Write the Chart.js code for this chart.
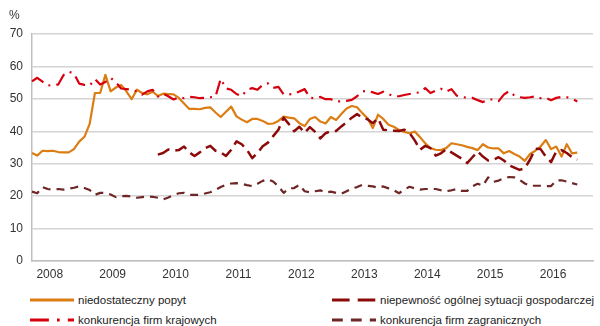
<!DOCTYPE html>
<html lang="pl">
<head>
<meta charset="utf-8">
<title>Bariery działalności</title>
<script src="https://cdn.jsdelivr.net/npm/chart.js@4/dist/chart.umd.min.js"></script>
<style>
  body { margin: 0; background: #fff; font-family: 'Liberation Sans', Arial, sans-serif; }
  #wrap { position: relative; width: 600px; height: 326px; overflow: hidden; }
  #box { position: absolute; left: 0; top: 0; width: 600px; height: 290px; }
  #unit { position: absolute; left: 9px; top: 8px; font-size: 12px; line-height: 14px; color: #333; }
  .item { position: absolute; height: 14px; font-size: 11.5px; line-height: 14px; color: #222; white-space: nowrap; }
  .item svg { position: absolute; left: 0; top: 0; }
  .item span { position: absolute; top: 0; left: 48px; }
</style>
</head>
<body>
<div id="wrap">
  <div id="box"><canvas id="barriersChart"></canvas></div>
  <div id="unit">%</div>
  <div id="legend"></div>
</div>
<script>
// year tick labels, data is monthly from Jan 2008
const years = ['2008', '2009', '2010', '2011', '2012', '2013', '2014', '2015', '2016'];

const popyt = [
  33.3, 32.5, 34.0, 33.9, 34.0, 33.6, 33.5, 33.5, 34.5, 36.8, 38.3, 42.3,
  51.8, 51.8, 57.4, 52.3, 53.5, 54.3, 52.3, 49.9, 52.8, 51.8, 51.4, 52.2,
  50.9, 51.6, 51.5, 51.4, 50.3, 48.6, 46.9, 46.9, 46.8, 47.2, 47.4, 45.8,
  44.4, 46.0, 47.6, 44.6, 43.6, 42.8, 43.8, 43.8, 43.2, 42.3, 42.4, 43.2,
  44.5, 44.2, 44.0, 42.5, 41.6, 43.8, 44.4, 43.0, 42.4, 44.4, 43.5, 45.3,
  47.0, 47.8, 47.4, 45.6, 44.0, 41.0, 45.1, 43.8, 42.0, 41.4, 40.4, 39.8,
  39.4, 39.9, 38.2, 36.3, 34.8, 34.3, 34.2, 34.8, 36.3, 36.0, 35.7, 35.2,
  34.8, 34.2, 36.0, 35.0, 34.7, 34.7, 33.2, 33.9, 33.0, 32.2, 30.9, 33.0,
  34.0, 35.3, 37.3, 34.5, 35.3, 32.2, 36.0, 33.2, 33.4
];

const niepewnosc = [
  null, null, null, null, null, null, null, null, null, null, null, null,
  null, null, null, null, null, null, null, null, null, null, null, null,
  32.8, 33.3, 34.4, 34.0, 34.2, 35.3, 33.5, 32.4, 33.5, 34.8, 35.5, 34.0,
  33.5, 32.4, 34.3, 36.9, 36.0, 34.3, 31.7, 33.3, 35.4, 36.5, 38.5, 40.5,
  44.2, 42.2, 40.0, 41.4, 39.5, 41.3, 39.8, 37.8, 39.4, 40.1, 40.1, 41.5,
  42.8, 44.2, 45.3, 44.2, 43.7, 42.5, 44.0, 40.5, 40.3, 40.2, 40.1, 40.5,
  39.5, 37.2, 34.3, 35.5, 34.8, 32.5, 33.2, 34.5, 33.5, 32.5, 31.5, 30.2,
  32.0, 33.8, 32.2, 31.0, 31.2, 32.0, 31.0, 29.5, 28.8, 28.1, 28.6, 31.3,
  34.6, 34.5, 32.2, 30.5, 33.8, 34.2, 33.3, 32.0, 31.3
];

const krajowe = [
  55.4, 56.5, 55.3, 54.1, 54.3, 54.4, 57.3, 58.4, 57.8, 54.7, 54.3, 54.1,
  56.1, 54.4, 55.2, 56.5, 55.1, 53.2, 53.0, 52.8, 52.3, 51.3, 52.3, 52.8,
  50.7, 51.6, 50.8, 49.8, 50.5, 50.2, 50.6, 50.5, 50.2, 50.3, 50.5, 50.7,
  56.2, 53.2, 52.8, 51.5, 50.8, 52.8, 53.3, 52.8, 54.3, 54.8, 53.4, 53.7,
  51.4, 51.4, 51.5, 52.3, 53.0, 50.3, 50.2, 50.6, 49.9, 49.9, 49.2, 49.2,
  49.4, 49.7, 50.8, 52.3, 52.5, 52.0, 51.5, 52.2, 51.5, 50.8, 50.8, 51.2,
  51.5, 51.8, 52.0, 53.3, 51.8, 52.5, 53.1, 52.2, 53.0, 51.0, 50.6, 50.3,
  50.3, 49.6, 49.0, 49.8, 49.8, 49.3, 51.3, 52.4, 51.0, 50.5, 50.3, 50.5,
  50.8, 50.2, 50.3, 49.6, 50.3, 50.6, 50.5, 50.1, 49.2
];

const zagraniczne = [
  21.4, 20.9, 22.8, 22.2, 22.0, 22.2, 22.0, 22.3, 22.6, 23.0, 22.5, 21.9,
  20.4, 21.0, 21.0, 20.5, 19.7, 20.0, 20.1, 19.9, 19.5, 19.7, 19.9, 19.8,
  19.5, 19.0, 19.6, 20.3, 20.9, 21.0, 20.4, 20.4, 20.4, 20.8, 21.2, 21.9,
  22.8, 23.5, 23.9, 24.0, 23.8, 23.4, 23.1, 23.8, 24.7, 25.2, 24.5, 23.0,
  21.0, 22.4, 22.5, 23.5, 21.5, 21.2, 21.5, 21.8, 21.1, 21.4, 21.0, 20.7,
  21.5, 22.4, 22.8, 23.5, 23.2, 23.0, 22.6, 23.0, 22.4, 21.8, 20.9, 22.0,
  22.9, 22.4, 22.0, 22.2, 22.2, 22.2, 21.8, 21.5, 21.8, 22.2, 21.6, 21.6,
  23.0, 23.8, 23.2, 25.8, 24.4, 24.8, 25.5, 25.9, 25.8, 25.0, 23.9, 23.2,
  23.2, 23.2, 23.1, 23.1, 24.8, 24.9, 24.5, 24.0, 23.6
];

document.addEventListener('DOMContentLoaded', function () {
  // one category per month, Jan 2008 - Dec 2016
  const months = [];
  years.forEach(function (y) {
    for (let m = 1; m <= 12; m++) months.push(y + '-' + String(m).padStart(2, '0'));
  });

  const datasets = [
    {
      label: 'niedostateczny popyt',
      data: popyt,
      borderColor: '#dc7d14',
      borderWidth: 2.2,
      borderDash: [],
      order: 4
    },
    {
      label: 'niepewność ogólnej sytuacji gospodarczej',
      data: niepewnosc,
      borderColor: '#8c0a0a',
      borderWidth: 2.5,
      borderDash: [13, 6],
      order: 3
    },
    {
      label: 'konkurencja firm krajowych',
      data: krajowe,
      borderColor: '#d7000f',
      borderWidth: 2.2,
      borderDash: [14, 6, 2, 6],
      order: 2
    },
    {
      label: 'konkurencja firm zagranicznych',
      data: zagraniczne,
      borderColor: '#6e2626',
      borderWidth: 2.2,
      borderDash: [8, 6],
      order: 1
    }
  ];
  datasets.forEach(function (d) {
    d.fill = false;
    d.pointRadius = 0;
    d.tension = 0;
    d.borderJoinStyle = 'round';
  });

  const ctx = document.getElementById('barriersChart').getContext('2d');
  const config = {
    type: 'line',
    data: { labels: months, datasets: datasets },
    options: {
      responsive: true,
      maintainAspectRatio: false,
      animation: false,
      layout: { padding: { top: 34, right: 7, left: 0, bottom: 0 } },
      plugins: {
        legend: { display: false },
        tooltip: { enabled: false }
      },
      scales: {
        x: {
          grid: { display: false, drawTicks: false },
          border: { display: true, color: '#bfbfbf', width: 1.5 },
          ticks: {
            autoSkip: false,
            maxRotation: 0,
            minRotation: 0,
            padding: 6,
            labelOffset: 2,
            color: '#333',
            font: { family: "'Liberation Sans', Arial, sans-serif", size: 12 },
            callback: function (value, index) {
              return index % 12 === 3 ? years[Math.floor(index / 12)] : '';
            }
          },
          afterFit: function (scale) { scale.height = 29; }
        },
        y: {
          min: 0,
          max: 70,
          grid: { color: '#d4d4d4', lineWidth: 1.5, drawTicks: false },
          border: { display: true, color: '#bfbfbf', width: 1.5 },
          ticks: {
            stepSize: 10,
            padding: 9,
            color: '#333',
            font: { family: "'Liberation Sans', Arial, sans-serif", size: 12 }
          },
          afterFit: function (scale) { scale.width = 32; }
        }
      }
    }
  };

  new Chart(ctx, config);

  // legend in two columns under the plot, samples a bit stretched like the original
  const spots = [[30, 293], [332, 293], [30, 313], [332, 313]];
  const legend = document.getElementById('legend');
  datasets.forEach(function (d, i) {
    const item = document.createElement('div');
    item.className = 'item';
    item.style.left = spots[i][0] + 'px';
    item.style.top = spots[i][1] + 'px';
    const pattern = d.borderDash.map(function (v) { return (v * 1.35).toFixed(1); });
    const dash = pattern.length ? ' stroke-dasharray="' + pattern.join(' ') + '"' : '';
    item.innerHTML =
      '<svg width="44" height="14"><line x1="0" y1="7" x2="44" y2="7" stroke="' + d.borderColor +
      '" stroke-width="' + (d.borderWidth + 0.6) + '"' + dash + '/></svg>' +
      '<span>' + d.label + '</span>';
    legend.appendChild(item);
  });
});
</script>
</body>
</html>
